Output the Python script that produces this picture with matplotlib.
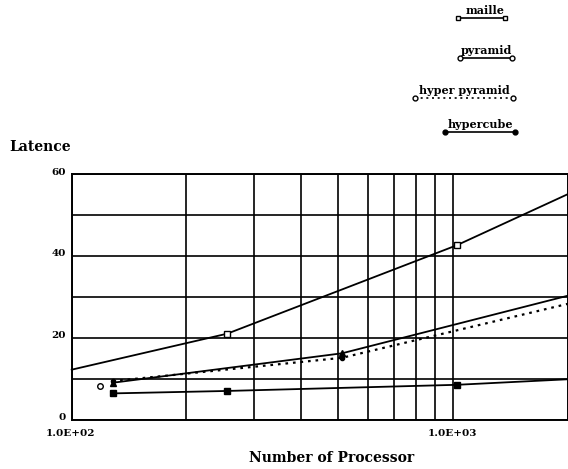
import matplotlib
matplotlib.use('Agg')
import matplotlib.pyplot as plt
from matplotlib.lines import Line2D
from matplotlib.ticker import FixedLocator, NullFormatter

# values
maille_x = [100, 256, 1024, 2048]
maille_y = [12.3, 21.1, 42.7, 55.6]
maille_stray_x = [119]
maille_stray_y = [8.2]

pyramid_x = [128, 512, 2048]
pyramid_y = [9.1, 16.3, 30.6]

hyper_pyramid_x = [128, 512, 2048]
hyper_pyramid_y = [9.5, 15.2, 28.6]

hypercube_x = [128, 256, 1024, 2048]
hypercube_y = [6.5, 7.1, 8.6, 10.0]

y_ticks = [0, 20, 40, 60]
x_tick_labels = ['1.0E+02', '1.0E+03']

serif = ['DejaVu Serif']
plt.rcParams['font.family'] = serif
plt.rcParams['font.weight'] = 'bold'

W, H = 568, 469
fig = plt.figure(figsize=(W / 100, H / 100), dpi=100)
ax = fig.add_axes([71.7 / W, 1 - 420 / H, (567.5 - 71.7) / W, (420 - 174.5) / H])

ax.set_xscale('log')
ax.set_xlim(100, 2000)
ax.set_ylim(0, 60)

# grid: every 10 on y, log decades on x
ax.yaxis.set_major_locator(FixedLocator(range(0, 61, 10)))
ax.xaxis.set_major_locator(FixedLocator([100, 1000]))
ax.xaxis.set_minor_locator(FixedLocator([200, 300, 400, 500, 600, 700, 800, 900]))
ax.xaxis.set_minor_formatter(NullFormatter())
ax.grid(True, which='both', color='black', linewidth=1.2)
ax.set_axisbelow(True)
for s in ax.spines.values():
    s.set_linewidth(1.4)
ax.tick_params(which='both', length=0, labelbottom=False, labelleft=False)

lw = 1.3
ax.plot(maille_x, maille_y, color='black', lw=lw, marker='s', ms=4,
        mfc='white', mec='black', markevery=[1, 2], clip_on=False)
ax.plot(maille_stray_x, maille_stray_y, ls='none', marker='o', ms=4,
        mfc='white', mec='black')
ax.plot(pyramid_x, pyramid_y, color='black', lw=lw, marker='^', ms=4,
        mfc='black', clip_on=False)
ax.plot(hyper_pyramid_x, hyper_pyramid_y, color='black', lw=1.6,
        ls=(0, (1.2, 2.2)), marker='o', ms=3, clip_on=False)
ax.plot(hypercube_x, hypercube_y, color='black', lw=lw, marker='s', ms=4.5,
        mfc='black', clip_on=False)

# tick labels placed by hand like the scan
for v in y_ticks:
    ax.text(-0.012, v + 0.6, str(v), transform=ax.get_yaxis_transform(),
            ha='right', va='center', fontsize=7.5, fontweight='bold')
for v, lab in zip([100, 1000], x_tick_labels):
    ax.text(v * 0.995, -0.055, lab, transform=ax.get_xaxis_transform(),
            ha='center', va='center', fontsize=7.5, fontweight='bold')

fig.text(9 / W, 1 - 147 / H, 'Latence', ha='left', va='center',
         fontsize=10, fontweight='bold')
fig.text(332 / W, 1 - 458 / H, 'Number of Processor', ha='center',
         va='center', fontsize=10, fontweight='bold')

# legend drawn at the top right
legend = [
    ('maille', 485, 11, 458, 505, 18, '-', 's', 'white'),
    ('pyramid', 486, 51, 460, 512, 58, '-', 'o', 'white'),
    ('hyper pyramid', 464, 90, 415, 513, 98, (0, (1.2, 2.2)), 'o', 'white'),
    ('hypercube', 480, 125, 445, 515, 132, '-', 'o', 'black'),
]
for name, tx, ty, x0, x1, ly, ls, mk, fc in legend:
    fig.text(tx / W, 1 - ty / H, name, ha='center', va='center',
             fontsize=8, fontweight='bold')
    fig.add_artist(Line2D([x0 / W, x1 / W], [1 - ly / H, 1 - ly / H],
                          transform=fig.transFigure, color='black', lw=1.2,
                          ls=ls, marker=mk, ms=3.5, mfc=fc, mec='black'))

fig.savefig('out.png', dpi=100)
